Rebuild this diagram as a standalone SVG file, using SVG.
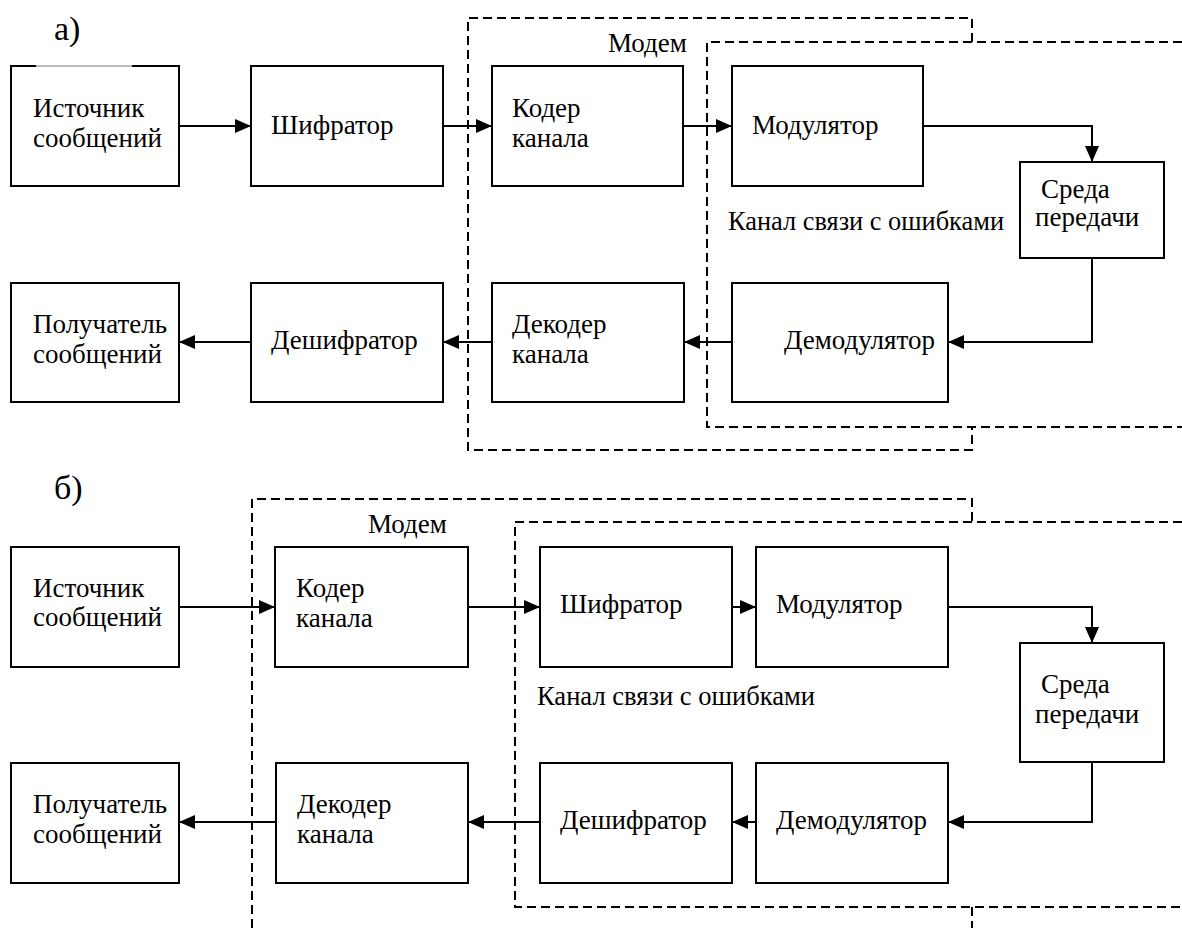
<svg xmlns="http://www.w3.org/2000/svg" width="1182" height="928" viewBox="0 0 1182 928">
<style>
.box{fill:#fff;stroke:#000;stroke-width:2}
.t{font-family:'Liberation Serif','DejaVu Serif',serif;font-size:27px;fill:#000}
.lbl{font-family:'Liberation Serif','DejaVu Serif',serif;font-size:34px;fill:#000}
.c{fill:none;stroke:#000;stroke-width:2}
.d{fill:none;stroke:#000;stroke-width:2;stroke-dasharray:9 5}
</style>
<defs>
<marker id="ar" markerUnits="userSpaceOnUse" markerWidth="16" markerHeight="14" refX="16" refY="7" orient="auto">
<path d="M0,0 L16,7 L0,14 z" fill="#000"/>
</marker>
</defs>
<rect width="1182" height="928" fill="#fff"/>

<text class="lbl" x="54" y="40">а)</text>
<text class="lbl" x="54" y="499">б)</text>

<!-- diagram a -->
<g id="a-src"><rect class="box" x="11" y="66" width="168" height="120"/><line x1="36" y1="66" x2="132" y2="66" stroke="#fff" stroke-width="2"/><line x1="36" y1="66" x2="132" y2="66" stroke="#777" stroke-width="1"/><text class="t" x="33" y="117">Источник</text><text class="t" x="33" y="147">сообщений</text></g>
<g id="a-enc"><rect class="box" x="251" y="66" width="192" height="120"/><text class="t" x="271" y="134">Шифратор</text></g>
<g id="a-chenc"><rect class="box" x="492" y="66" width="191" height="120"/><text class="t" x="512" y="117">Кодер</text><text class="t" x="512" y="147">канала</text></g>
<g id="a-mod"><rect class="box" x="732" y="66" width="191" height="120"/><text class="t" x="752" y="134">Модулятор</text></g>
<g id="a-medium"><rect class="box" x="1020" y="162" width="144" height="96"/><text class="t" x="1041" y="198">Среда</text><text class="t" x="1035" y="226">передачи</text></g>
<g id="a-demod"><rect class="box" x="732" y="283" width="216" height="119"/><text class="t" x="784" y="349">Демодулятор</text></g>
<g id="a-chdec"><rect class="box" x="492" y="283" width="192" height="119"/><text class="t" x="512" y="333">Декодер</text><text class="t" x="512" y="363">канала</text></g>
<g id="a-dec"><rect class="box" x="251" y="283" width="192" height="119"/><text class="t" x="271" y="349">Дешифратор</text></g>
<g id="a-dst"><rect class="box" x="11" y="283" width="168" height="119"/><text class="t" x="33" y="333">Получатель</text><text class="t" x="33" y="363">сообщений</text></g>
<g id="a-modem"><path class="d" d="M972,42 V18 H468 V450 H972 V427"/><text class="t" x="608" y="52">Модем</text></g>
<g id="a-channel"><path class="d" d="M1182,42 H707 V427 H1182"/><text class="t" x="728" y="230" textLength="276" lengthAdjust="spacingAndGlyphs">Канал связи с ошибками</text></g>

<!-- diagram b -->
<g id="b-src"><rect class="box" x="11" y="547" width="168" height="120"/><text class="t" x="33" y="597">Источник</text><text class="t" x="33" y="626">сообщений</text></g>
<g id="b-chenc"><rect class="box" x="275" y="547" width="193" height="120"/><text class="t" x="296" y="597">Кодер</text><text class="t" x="296" y="627">канала</text></g>
<g id="b-enc"><rect class="box" x="540" y="547" width="192" height="120"/><text class="t" x="560" y="613">Шифратор</text></g>
<g id="b-mod"><rect class="box" x="756" y="547" width="192" height="120"/><text class="t" x="776" y="613">Модулятор</text></g>
<g id="b-medium"><rect class="box" x="1020" y="643" width="144" height="119"/><text class="t" x="1041" y="693">Среда</text><text class="t" x="1035" y="723">передачи</text></g>
<g id="b-demod"><rect class="box" x="756" y="763" width="192" height="120"/><text class="t" x="776" y="829">Демодулятор</text></g>
<g id="b-dec"><rect class="box" x="540" y="763" width="192" height="120"/><text class="t" x="560" y="829">Дешифратор</text></g>
<g id="b-chdec"><rect class="box" x="276" y="763" width="192" height="120"/><text class="t" x="297" y="813">Декодер</text><text class="t" x="297" y="843">канала</text></g>
<g id="b-dst"><rect class="box" x="11" y="763" width="168" height="120"/><text class="t" x="33" y="813">Получатель</text><text class="t" x="33" y="843">сообщений</text></g>
<g id="b-modem"><path class="d" d="M252,928 V499 H972 V522"/><text class="t" x="368" y="533">Модем</text></g>
<g id="b-channel"><path class="d" d="M1182,522 H515 V907 H1182 M972,907 V928"/><text class="t" x="537" y="705" textLength="278" lengthAdjust="spacingAndGlyphs">Канал связи с ошибками</text></g>

<g id="connectors">
<path class="c" marker-end="url(#ar)" d="M179,126 H251"/>
<path class="c" marker-end="url(#ar)" d="M443,126 H492"/>
<path class="c" marker-end="url(#ar)" d="M683,126 H732"/>
<path class="c" marker-end="url(#ar)" d="M923,126 H1092 V162"/>
<path class="c" marker-end="url(#ar)" d="M1092,258 V342 H948"/>
<path class="c" marker-end="url(#ar)" d="M732,342 H684"/>
<path class="c" marker-end="url(#ar)" d="M492,342 H443"/>
<path class="c" marker-end="url(#ar)" d="M251,342 H179"/>
<path class="c" marker-end="url(#ar)" d="M179,607 H275"/>
<path class="c" marker-end="url(#ar)" d="M468,607 H540"/>
<path class="c" marker-end="url(#ar)" d="M732,607 H756"/>
<path class="c" marker-end="url(#ar)" d="M948,607 H1092 V643"/>
<path class="c" marker-end="url(#ar)" d="M1092,762 V822 H948"/>
<path class="c" marker-end="url(#ar)" d="M756,822 H732"/>
<path class="c" marker-end="url(#ar)" d="M540,822 H468"/>
<path class="c" marker-end="url(#ar)" d="M276,822 H179"/>
</g>
</svg>
